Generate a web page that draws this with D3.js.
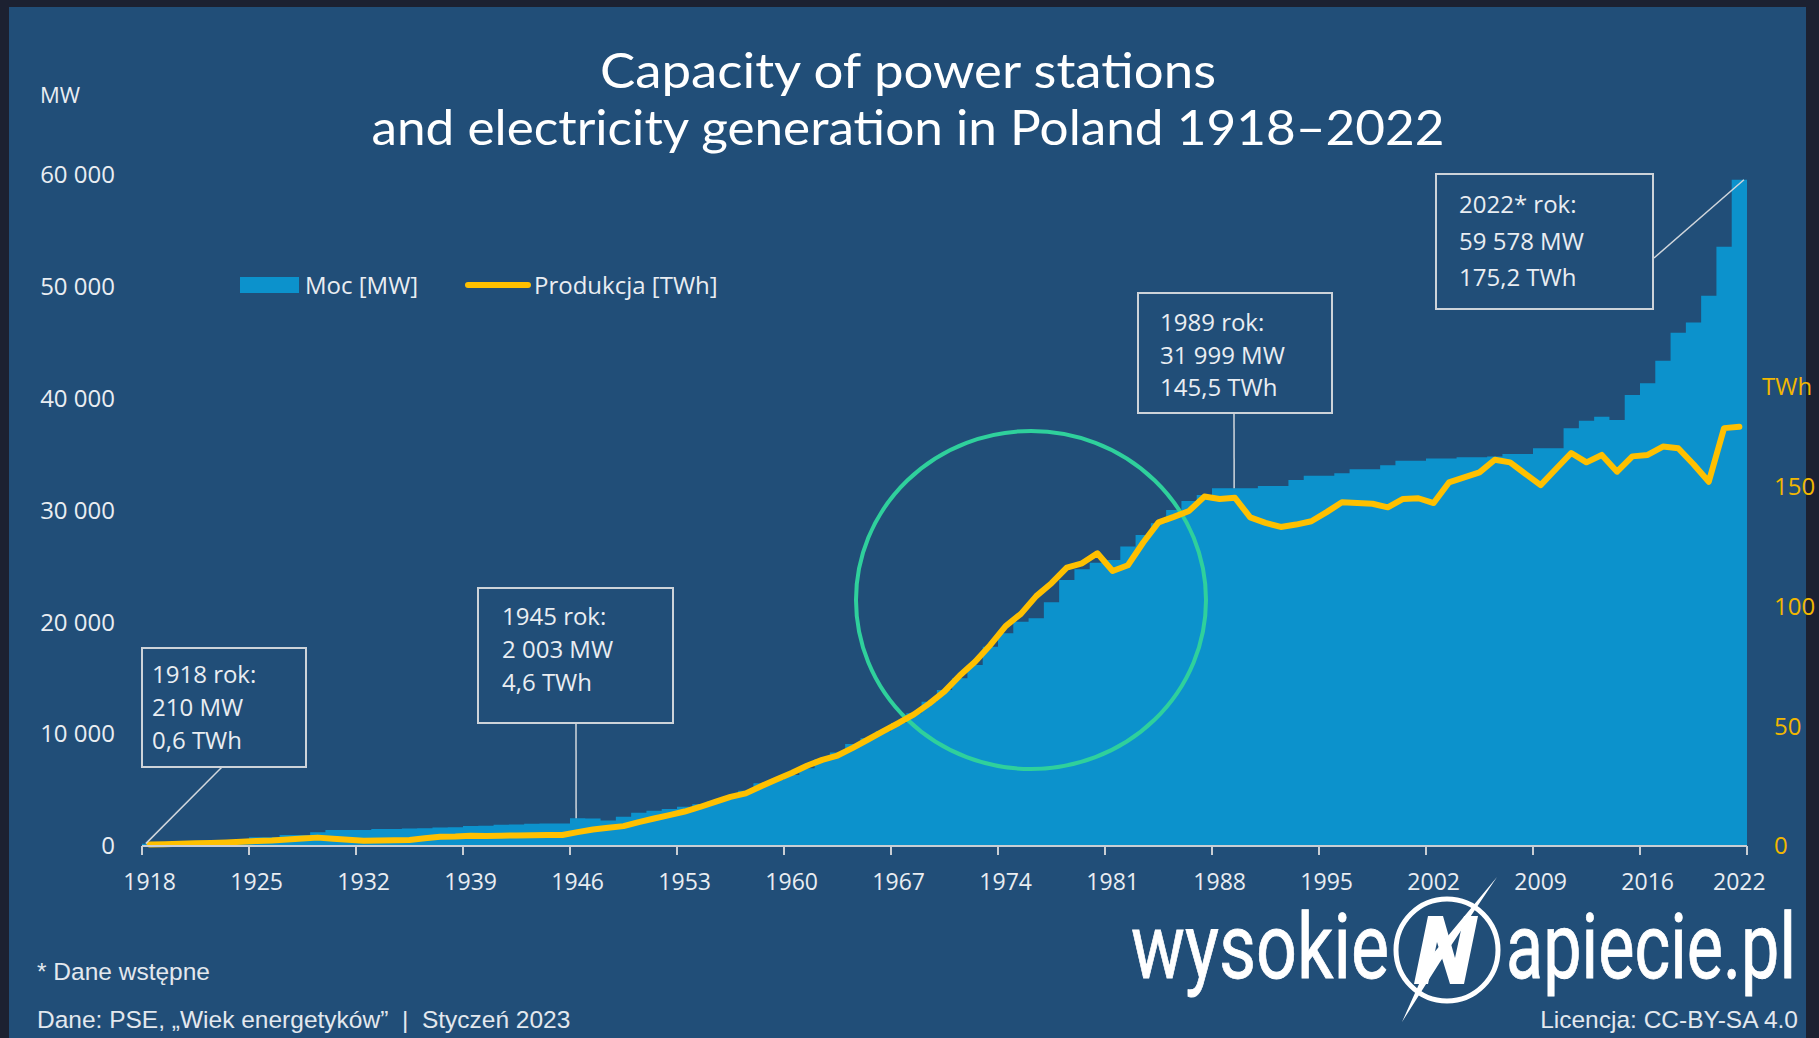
<!DOCTYPE html>
<html lang="en">
<head>
<meta charset="utf-8">
<title>Capacity of power stations and electricity generation in Poland 1918–2022</title>
<script src="https://d3js.org/d3.v7.min.js"></script>
<style>
  body { margin: 0; background: #1c2131; }
  svg { display: block; }
  .lbl { font-family: "Open Sans", sans-serif; fill: #e9edf2; }
</style>
</head>
<body>
<script>
// years (categories)
var years = d3.range(1918, 2023);

// installed capacity, MW
var capacityMW = [
  210, 260, 310, 360, 420, 480, 560, 780, 790, 980,          // 1918-1927
  990, 1220, 1420, 1430, 1440, 1510, 1530, 1570, 1590, 1660, // 1928-1937
  1680, 1780, 1800, 1900, 1920, 2000, 2010, 2003, 2480, 2470, // 1938-1947
  2270, 2620, 2980, 3160, 3310, 3520, 3730, 4020, 4410, 4950, // 1948-1957
  5600, 5900, 6350, 6950, 7780, 8350, 9120, 9630, 10250, 11000, // 1958-1967
  11870, 12900, 13950, 15000, 16190, 17820, 19020, 20060, 20360, 21790, // 1968-1977
  23790, 24740, 25330, 25570, 26770, 27810, 28860, 30050, 30850, 31390, // 1978-1987
  31990, 31999, 31990, 32190, 32190, 32730, 33100, 33100, 33330, 33680, // 1988-1997
  33680, 34040, 34450, 34450, 34640, 34640, 34760, 34760, 34820, 35050, // 1998-2007
  35050, 35560, 35560, 37350, 38030, 38390, 38090, 40330, 41370, 43400, // 2008-2017
  45900, 46800, 49210, 53590, 59578                                      // 2018-2022
];

// electricity generation, TWh
var productionTWh = [
  0.6, 0.7, 0.9, 1.1, 1.3, 1.5, 1.8, 2.1, 2.3, 2.7,      // 1918-1927
  3.1, 3.5, 3.0, 2.6, 2.2, 2.3, 2.4, 2.5, 3.2, 3.9,      // 1928-1937
  4.0, 4.3, 4.2, 4.3, 4.4, 4.5, 4.6, 4.6, 5.8, 6.9,      // 1938-1947
  7.6, 8.3, 10.0, 11.5, 12.9, 14.4, 16.3, 18.4, 20.5, 22.0, // 1948-1957
  25.0, 27.8, 30.5, 33.5, 36.0, 37.8, 41.0, 44.5, 48.0, 51.4, // 1958-1967
  55.0, 59.5, 64.6, 71.2, 77.0, 84.0, 91.9, 97.0, 104.4, 109.8, // 1968-1977
  116.3, 118.1, 122.3, 114.9, 117.3, 126.8, 135.2, 137.5, 140.0, 146.0, // 1978-1987
  145.0, 145.5, 137.3, 135.0, 133.3, 134.3, 135.7, 139.5, 143.6, 143.3, // 1988-1997
  143.0, 141.5, 145.0, 145.3, 143.3, 151.9, 154.0, 156.1, 161.4, 160.3, // 1998-2007
  155.5, 150.8, 157.5, 164.2, 160.3, 163.4, 156.4, 162.8, 163.4, 166.9, // 2008-2017
  166.2, 159.5, 152.2, 174.6, 175.2                                     // 2018-2022
];

var mwTicks = [0, 10000, 20000, 30000, 40000, 50000, 60000];
var twhTicks = [0, 50, 100, 150];
var yearLabels = [1918, 1925, 1932, 1939, 1946, 1953, 1960, 1967, 1974, 1981, 1988, 1995, 2002, 2009, 2016, 2022];
var tickEvery = 7;

var notes = [
  { year: 1918, anchor: 1918, lines: ["1918 rok:", "210 MW", "0,6 TWh"] },
  { year: 1945, anchor: 1946, lines: ["1945 rok:", "2 003 MW", "4,6 TWh"] },
  { year: 1989, anchor: 1989, lines: ["1989 rok:", "31 999 MW", "145,5 TWh"] },
  { year: 2022, anchor: 2022, lines: ["2022* rok:", "59 578 MW", "175,2 TWh"] }
];
// box placement for each note (pixels)
var noteBoxes = [
  { x: 142, y: 648, w: 164, h: 119, pad: 10, first: 675, step: 33, from: [222, 767], dx: 0.25 },
  { x: 478, y: 588, w: 195, h: 135, pad: 24, first: 617, step: 33, from: [576, 723], dx: 0.4 },
  { x: 1138, y: 293, w: 194, h: 120, pad: 22, first: 323, step: 32.5, from: [1234, 413], dx: 0.45 },
  { x: 1436, y: 174, w: 217, h: 135, pad: 23, first: 205, step: 36.5, from: [1654, 258], dx: 0.8 }
];

var W = 1819, H = 1038;
var plotL = 142, plotR = 1747, plotT = 175, plotB = 846;

var svg = d3.select("body").append("svg")
  .attr("width", W).attr("height", H);

// panel
svg.append("rect").attr("x", 9).attr("y", 7).attr("width", 1797).attr("height", H - 7)
  .attr("fill", "#214e78");

var x = d3.scaleBand().domain(years).range([plotL, plotR]).padding(0);
var bw = x.bandwidth();
var yMW = d3.scaleLinear().domain([0, 60000]).range([plotB, plotT]);
var yTWh = d3.scaleLinear().domain([0, 150]).range([plotB, 487]);

// title
var title = svg.append("g")
  .attr("font-family", "Lato, 'Open Sans', sans-serif")
  .attr("font-size", 48)
  .attr("fill", "#ffffff")
  .attr("text-anchor", "middle");
title.append("text").attr("x", 908).attr("y", 88)
  .attr("textLength", 616).attr("lengthAdjust", "spacingAndGlyphs")
  .text("Capacity of power stations");
title.append("text").attr("x", 908).attr("y", 145)
  .attr("textLength", 1073).attr("lengthAdjust", "spacingAndGlyphs")
  .text("and electricity generation in Poland 1918–2022");

// unit labels
svg.append("text").attr("class", "lbl").attr("x", 40).attr("y", 103)
  .attr("font-size", 22).text("MW");
svg.append("text").attr("x", 1762).attr("y", 395)
  .attr("font-family", "'Open Sans', sans-serif").attr("font-size", 24)
  .attr("fill", "#f2b700").text("TWh");

// capacity as stepped area
var stepData = years.map(function(yr, i) { return [x(yr), capacityMW[i]]; });
stepData.push([plotR, capacityMW[capacityMW.length - 1]]);
var area = d3.area()
  .x(function(d) { return d[0]; })
  .y0(plotB)
  .y1(function(d) { return yMW(d[1]); })
  .curve(d3.curveStepAfter);
svg.append("path").datum(stepData)
  .attr("d", area)
  .attr("fill", "#0c92cc");

// highlight circle
svg.append("ellipse")
  .attr("cx", 1031).attr("cy", 600).attr("rx", 175).attr("ry", 169)
  .attr("fill", "none").attr("stroke", "#2fd09c").attr("stroke-width", 4);

// production line
var line = d3.line()
  .x(function(d, i) { return x(years[i]) + bw / 2; })
  .y(function(d) { return yTWh(d); });
svg.append("path").datum(productionTWh)
  .attr("d", line)
  .attr("fill", "none")
  .attr("stroke", "#ffc000")
  .attr("stroke-width", 6)
  .attr("stroke-linejoin", "round")
  .attr("stroke-linecap", "round");

// x axis
svg.append("line").attr("x1", plotL).attr("x2", plotR).attr("y1", plotB).attr("y2", plotB)
  .attr("stroke", "#c9ced4").attr("stroke-width", 2);
var tickX = d3.range(0, years.length + 1, tickEvery).map(function(k) {
  return k < years.length ? x(years[k]) : plotR;
});
svg.append("g").selectAll("line").data(tickX).enter().append("line")
  .attr("x1", function(d) { return d; }).attr("x2", function(d) { return d; })
  .attr("y1", plotB).attr("y2", plotB + 9)
  .attr("stroke", "#c9ced4").attr("stroke-width", 2);

var xAxis = svg.append("g")
  .attr("transform", "translate(0," + plotB + ")")
  .call(d3.axisBottom(x).tickValues(yearLabels).tickSize(0).tickPadding(28));
xAxis.select(".domain").remove();
xAxis.selectAll("text").attr("class", "lbl").attr("font-size", 23).attr("fill", "#e9edf2");

// left axis
var fmt = function(v) { return d3.format(",")(v).replace(/,/g, " "); };
var yAxisL = svg.append("g")
  .attr("transform", "translate(" + plotL + ",0)")
  .call(d3.axisLeft(yMW).tickValues(mwTicks).tickFormat(fmt).tickSize(0).tickPadding(27));
yAxisL.select(".domain").remove();
yAxisL.selectAll("text").attr("class", "lbl").attr("font-size", 24).attr("fill", "#e9edf2");

// right axis
var yAxisR = svg.append("g")
  .attr("transform", "translate(" + plotR + ",0)")
  .call(d3.axisRight(yTWh).tickValues(twhTicks).tickSize(0).tickPadding(27));
yAxisR.select(".domain").remove();
yAxisR.selectAll("text").attr("font-family", "'Open Sans', sans-serif")
  .attr("font-size", 24).attr("fill", "#f2b700");

// legend
svg.append("rect").attr("x", 240).attr("y", 277).attr("width", 59).attr("height", 16)
  .attr("fill", "#0c92cc");
svg.append("text").attr("class", "lbl").attr("x", 305).attr("y", 294)
  .attr("font-size", 24).text("Moc [MW]");
svg.append("line").attr("x1", 468).attr("x2", 528).attr("y1", 285).attr("y2", 285)
  .attr("stroke", "#ffc000").attr("stroke-width", 6).attr("stroke-linecap", "round");
svg.append("text").attr("class", "lbl").attr("x", 534).attr("y", 294)
  .attr("font-size", 24).text("Produkcja [TWh]");

// annotations
notes.forEach(function(n, i) {
  var b = noteBoxes[i];
  var idx = years.indexOf(n.anchor);
  svg.append("line")
    .attr("x1", b.from[0]).attr("y1", b.from[1])
    .attr("x2", x(n.anchor) + bw * b.dx).attr("y2", yMW(capacityMW[idx]))
    .attr("stroke", "#d0d6dc").attr("stroke-width", 1.5);
  svg.append("rect").attr("x", b.x).attr("y", b.y).attr("width", b.w).attr("height", b.h)
    .attr("fill", "#214e78").attr("stroke", "#cdd3d9").attr("stroke-width", 2);
  n.lines.forEach(function(t, j) {
    svg.append("text").attr("class", "lbl")
      .attr("x", b.x + b.pad).attr("y", b.first + j * b.step + 8)
      .attr("font-size", 24).attr("fill", "#f2f4f7").text(t);
  });
});

// footer
var foot = svg.append("g").attr("font-family", "'Liberation Sans', Arial, sans-serif")
  .attr("font-size", 24.5).attr("fill", "#e3e8ee");
foot.append("text").attr("x", 37).attr("y", 980).text("* Dane wstępne");
foot.append("text").attr("x", 37).attr("y", 1028)
  .text("Dane: PSE, „Wiek energetyków”  |  Styczeń 2023").attr("xml:space", "preserve");
foot.append("text").attr("x", 1798).attr("y", 1028).attr("text-anchor", "end")
  .text("Licencja: CC-BY-SA 4.0");

// logo
var logo = svg.append("g").attr("fill", "#ffffff")
  .attr("font-family", "'Liberation Sans Narrow', 'Roboto', sans-serif").attr("font-size", 90);
logo.append("text").attr("x", 1131).attr("y", 978)
  .attr("stroke", "#ffffff").attr("stroke-width", 0.8)
  .attr("textLength", 258).attr("lengthAdjust", "spacingAndGlyphs").text("wysokie");
logo.append("text").attr("x", 1506).attr("y", 978)
  .attr("stroke", "#ffffff").attr("stroke-width", 0.8)
  .attr("textLength", 290).attr("lengthAdjust", "spacingAndGlyphs").text("apiecie.pl");
logo.append("circle").attr("cx", 1447).attr("cy", 950).attr("r", 51)
  .attr("fill", "none").attr("stroke", "#ffffff").attr("stroke-width", 5);
// slanted N inside the ring
logo.append("path")
  .attr("d", "M1414,984 L1428,916 L1443,916 L1455,958 L1464,916 L1478,916 L1464,984 L1450,984 L1437,942 L1428,984 Z")
  .attr("fill", "#ffffff");
// lightning stroke through the ring
logo.append("path")
  .attr("d", "M1497,877 L1440,962 L1402,1022 L1432,955 Z")
  .attr("fill", "#ffffff");
</script>
</body>
</html>
